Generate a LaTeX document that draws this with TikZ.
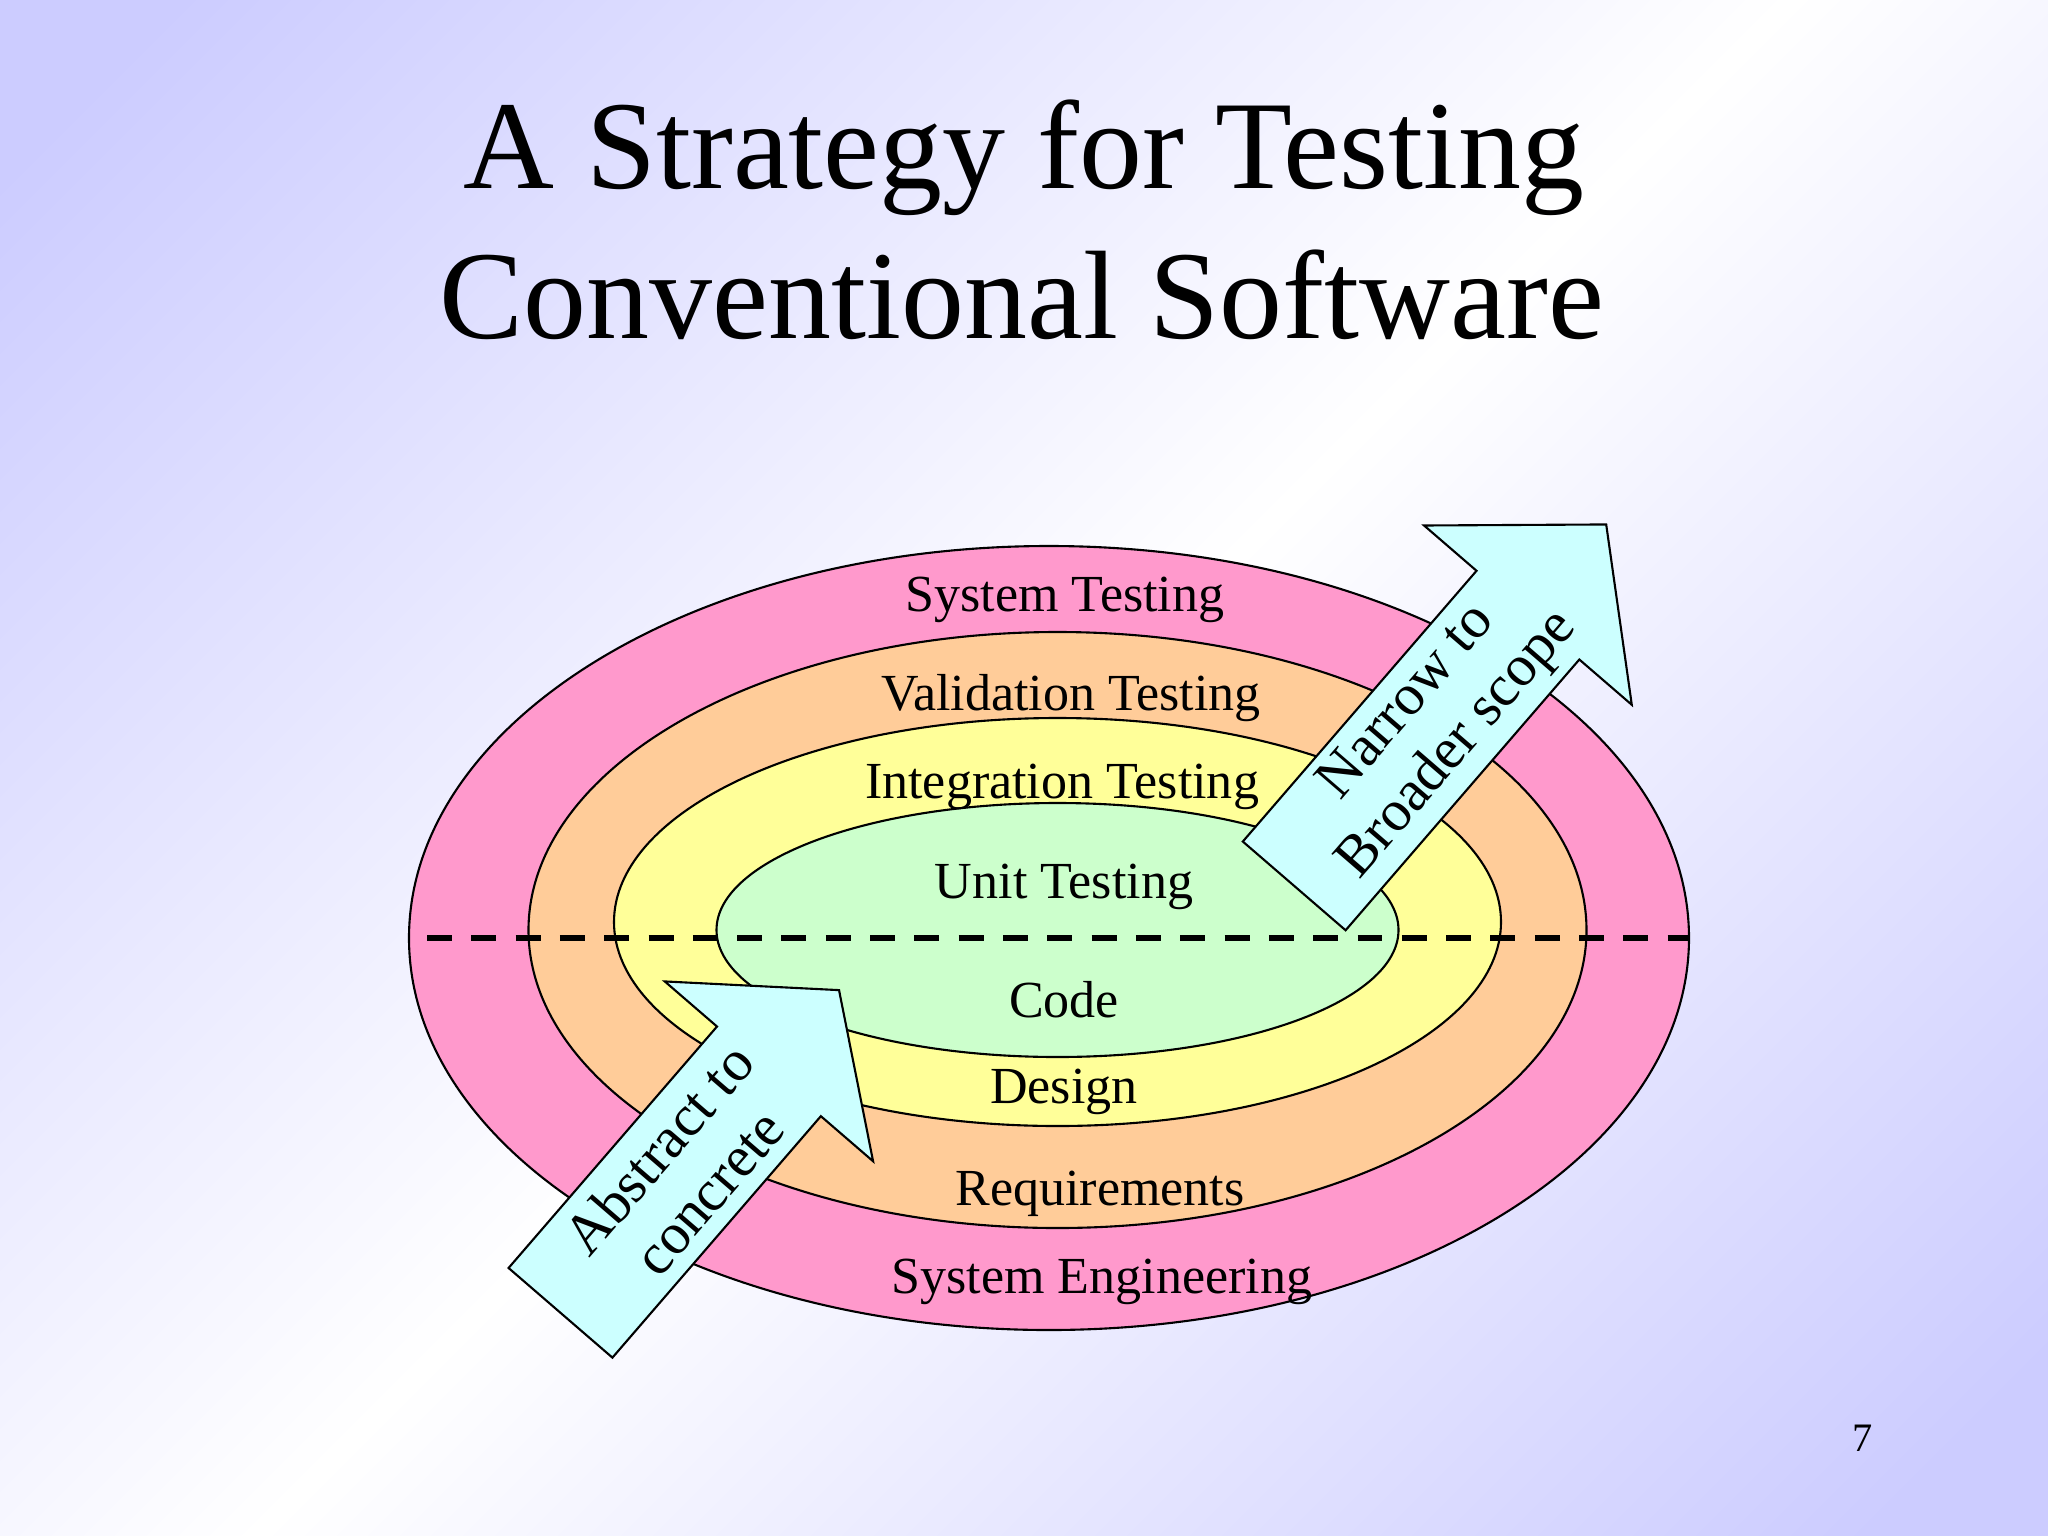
\documentclass[tikz,border=0pt]{standalone}
\usepackage{fontspec}
\setmainfont{Liberation Serif}

\definecolor{lavanda}{HTML}{CCCCFF}
\definecolor{rosa}{HTML}{FF99CC}
\definecolor{arancio}{HTML}{FFCC99}
\definecolor{giallo}{HTML}{FFFF99}
\definecolor{verde}{HTML}{CCFFCC}
\definecolor{azzurro}{HTML}{CCFFFF}

\pgfdeclarehorizontalshading{sfondo}{100bp}{color(0bp)=(lavanda); color(18bp)=(lavanda); color(50bp)=(white); color(82bp)=(lavanda); color(100bp)=(lavanda)}

\begin{document}
\begin{tikzpicture}[x=0.01cm, y=-0.01cm,
    anello/.style={draw=black, line width=0.6pt},
    etichetta/.style={font=\fontsize{14.8}{17}\selectfont, anchor=base},
    titolo/.style={font=\fontsize{35.8}{42}\selectfont, anchor=base},
    freccia/.style={draw=black, line width=0.6pt, fill=azzurro},
    testofreccia/.style={font=\fontsize{16.5}{18.8}\selectfont, align=center, rotate=49.2}]

    % Sfondo della slide
    \shade[shading=sfondo, shading angle=-45] (0,0) rectangle (2048,1536);
    \useasboundingbox (0,0) rectangle (2048,1536);

    % Titolo
    \node[titolo] (titolo1) at (1024,188) {A Strategy for Testing};
    \node[titolo] (titolo2) at (1022,338) {Conventional Software};

    % Ellissi concentriche, dalla piu' esterna
    \foreach \cx/\cy/\rx/\ry/\col in {1049/938/640/392/rosa, 1057.5/930/529/298/arancio,
        1057.5/922/443.5/204/giallo, 1057.5/930/341/127/verde} {
        \draw[anello, fill=\col] (\cx,\cy) ellipse [x radius=\rx, y radius=\ry];
    }

    % Linea tratteggiata orizzontale
    \coordinate (sinistra) at (427,938);
    \coordinate (destra) at (1689,938);
    \draw[line width=1.85pt, dash pattern=on 7.1pt off 5.5pt] (sinistra) -- (destra);

    % Etichette degli anelli
    \foreach \nome/\x/\y/\testo in {sistema/1065/611/System Testing, validazione/1071/710/Validation Testing,
        integrazione/1062/798/Integration Testing, unita/1064/898/Unit Testing,
        codice/1064/1017/Code, progetto/1064/1103/Design,
        requisiti/1100/1205/Requirements, ingegneria/1102/1293/System Engineering} {
        \node[etichetta] (\nome) at (\x,\y) {\testo};
    }

    % Freccia in alto a destra
    \begin{scope}[shift={(1294.2,885.9)}, rotate=49.2]
        \draw[freccia] (0,-67.9) -- (357.7,-67.9) -- (357.7,-137.2) -- (477.5,0)
            -- (357.7,137.2) -- (357.7,67.9) -- (0,67.9) -- cycle;
        \node[testofreccia] (ampiezza) at (213,0) {Narrow to\\Broader scope};
    \end{scope}

    % Freccia in basso a sinistra
    \begin{scope}[shift={(560.5,1312.8)}, rotate=49.2]
        \draw[freccia] (0,-68.6) -- (319,-68.6) -- (319,-137.6) -- (426.3,0)
            -- (319,137.6) -- (319,68.6) -- (0,68.6) -- cycle;
        \node[testofreccia] (astratto) at (188,0) {Abstract to\\concrete};
    \end{scope}

    % Numero di pagina
    \node[font=\fontsize{11.5}{14}\selectfont, anchor=base] (pagina) at (1863,1451) {7};
\end{tikzpicture}
\end{document}
